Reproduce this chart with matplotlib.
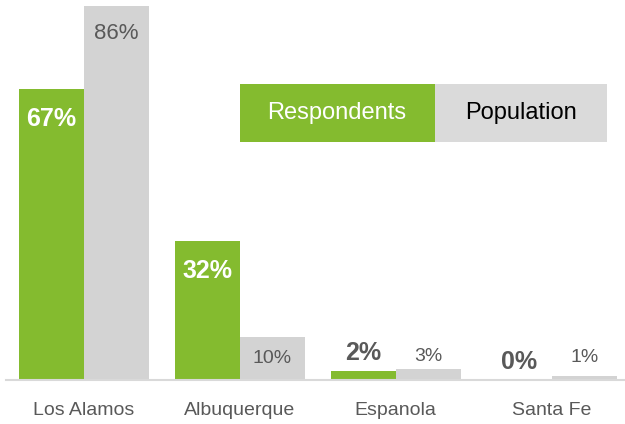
import matplotlib
matplotlib.use("Agg")
import matplotlib.pyplot as plt
import numpy as np
from matplotlib.patches import Rectangle

plt.rcParams["font.family"] = ["Liberation Sans Narrow", "Liberation Sans", "DejaVu Sans"]

cities = ["Los Alamos", "Albuquerque", "Espanola", "Santa Fe"]
respondents = [67, 32, 2, 0]
population = [86, 10, 2.6, 1]
resp_labels = ["67%", "32%", "2%", "0%"]
pop_labels = ["86%", "10%", "3%", "1%"]

GREEN = "#84BB2F"
GRAY = "#D3D3D3"
TEXT = "#595959"

fig = plt.figure(figsize=(6.25, 4.24), dpi=100)
ax = fig.add_axes([6 / 625, 44 / 424, 619 / 625, 374 / 424])

x = np.arange(len(cities))
w = 0.417
b1 = ax.bar(x - w / 2, respondents, w, color=GREEN, linewidth=0)
b2 = ax.bar(x + w / 2, population, w, color=GRAY, linewidth=0)

ax.set_xlim(-0.5, 3.47)
ax.set_ylim(0, 86)

# labels: inside the bar when it is tall enough, above otherwise
for bar, v, lab in zip(b1, respondents, resp_labels):
    cx = bar.get_x() + bar.get_width() / 2
    if v >= 10:
        ax.annotate(lab, (cx, v), xytext=(0, -22), textcoords="offset points",
                    ha="center", va="center", color="white", fontsize=18, fontweight="bold")
    else:
        ax.annotate(lab, (cx, v), xytext=(0, 13), textcoords="offset points",
                    ha="center", va="center", color=TEXT, fontsize=18, fontweight="bold")

for bar, v, lab in zip(b2, population, pop_labels):
    cx = bar.get_x() + bar.get_width() / 2
    if v >= 10:
        size = 16 if v > 50 else 14
        ax.annotate(lab, (cx, v), xytext=(0, -20 if v > 50 else -16), textcoords="offset points",
                    ha="center", va="center", color=TEXT, fontsize=size)
    else:
        ax.annotate(lab, (cx, v), xytext=(0, 9 if v > 2 else 13), textcoords="offset points",
                    ha="center", va="center", color=TEXT, fontsize=14)

for s in ["top", "right", "left"]:
    ax.spines[s].set_visible(False)
ax.spines["bottom"].set_color("#D9D9D9")
ax.spines["bottom"].set_linewidth(1.5)
ax.set_yticks([])
ax.set_xticks(x)
ax.set_xticklabels(cities, fontsize=14, color=TEXT)
ax.tick_params(axis="x", length=0, pad=16)

# legend as two coloured boxes
y0, h = (424 - 142) / 424, 58 / 424
fig.patches.append(Rectangle((240 / 625, y0), 195 / 625, h, transform=fig.transFigure,
                             color=GREEN, linewidth=0))
fig.patches.append(Rectangle((435 / 625, y0), 172 / 625, h, transform=fig.transFigure,
                             color="#DADADA", linewidth=0))
fig.text(337 / 625, y0 + h / 2, "Respondents", ha="center", va="center",
         color="white", fontsize=17)
fig.text(521 / 625, y0 + h / 2, "Population", ha="center", va="center",
         color="black", fontsize=17)

fig.savefig("out.png", dpi=100)
